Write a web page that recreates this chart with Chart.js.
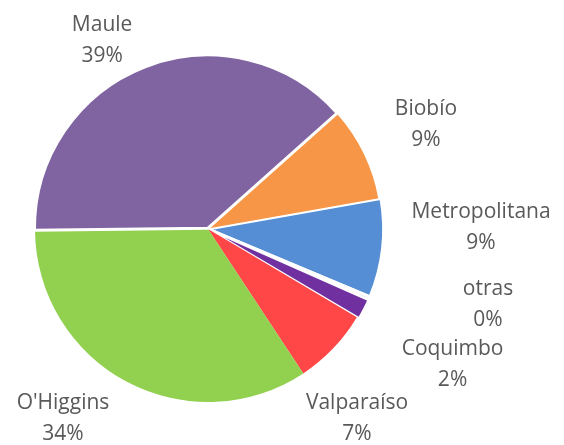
<!DOCTYPE html>
<html>
<head>
<meta charset="utf-8">
<script src="https://cdn.jsdelivr.net/npm/chart.js@4"></script>
<style>
  html, body { margin: 0; padding: 0; background: #fff; }
  #wrap { width: 564px; height: 445px; }
</style>
</head>
<body>
<div id="wrap"><canvas id="pie"></canvas></div>
<script>
// regiones, in clockwise order starting at Biobío
var regions = ['Biobío', 'Metropolitana', 'otras', 'Coquimbo', 'Valparaíso', "O'Higgins", 'Maule'];
var shares = [8.8, 9.1, 0.3, 1.9, 7.2, 34.1, 38.6];
var colors = ['#F79646', '#558ED5', '#A5A5A5', '#7030A0', '#FF4747', '#92D050', '#8064A2'];

// label block centres relative to the pie centre (moved by hand, like in the original)
var labelShift = [[218, -105], [279, -1], [280, 75], [249, 137], [149, 189], [-145, 189], [-107, -192]];

var pieLabels = {
    id: 'pieLabels',
    afterDatasetsDraw: function(chart) {
        var ctx = chart.ctx;
        var meta = chart.getDatasetMeta(0);
        var data = chart.data.datasets[0].data;
        var total = data.reduce(function(a, b) { return a + b; }, 0);
        ctx.save();
        ctx.fillStyle = '#595959';
        ctx.font = '21px "Open Sans"';
        ctx.textAlign = 'center';
        ctx.textBaseline = 'middle';
        for (var i = 0; i < meta.data.length; i++) {
            var arc = meta.data[i];
            // pie centre without the slice offset
            var mid = (arc.startAngle + arc.endAngle) / 2;
            var off = arc.options.offset || 0;
            var cx = arc.x - Math.cos(mid) * off;
            var cy = arc.y - Math.sin(mid) * off;
            var x = cx + labelShift[i][0];
            var y = cy + labelShift[i][1];
            var pct = Math.round(data[i] / total * 100) + '%';
            ctx.fillText(chart.data.labels[i], x, y - 15);
            ctx.fillText(pct, x, y + 16);
        }
        ctx.restore();
    }
};

var chart = new Chart(document.getElementById('pie'), {
    type: 'pie',
    data: {
        labels: regions,
        datasets: [{
            data: shares,
            backgroundColor: colors,
            borderColor: '#ffffff',
            borderWidth: [0, 2, 3, 2, 0, 0, 3],
            offset: [0, 6, 0, 5, 0, 0, 3]
        }]
    },
    options: {
        responsive: true,
        maintainAspectRatio: false,
        animation: false,
        rotation: 48.3,
        radius: 173,
        layout: { padding: { left: 20, right: 168, top: 41, bottom: 28 } },
        plugins: {
            legend: { display: false },
            tooltip: { enabled: false }
        }
    },
    plugins: [pieLabels]
});
</script>
</body>
</html>
